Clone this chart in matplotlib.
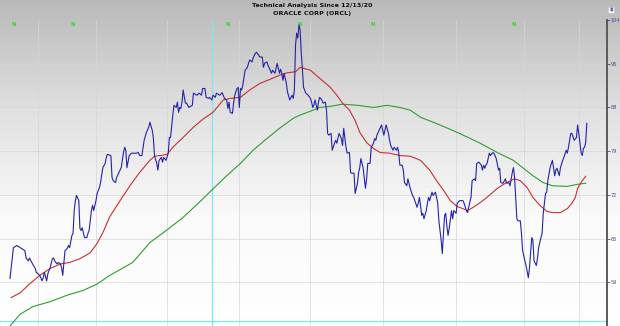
import numpy as np
import matplotlib.pyplot as plt
from matplotlib.colors import LinearSegmentedColormap
from matplotlib.ticker import NullLocator

title_lines = ["Technical Analysis Since 12/13/20", "ORACLE CORP (ORCL)"]

# closing price, trading-day index since 12/13/20
price_day = [0, 3, 6, 10, 13, 14, 16, 17, 19, 22, 23, 26, 28, 29, 30, 32, 33, 35, 37, 38,
             39, 41, 42, 44, 45, 46, 48, 50, 51, 52, 54, 55, 56, 57, 58, 60, 61, 62, 63, 65,
             67, 68, 69, 71, 72, 73, 75, 76, 78, 79, 80, 81, 83, 84, 85, 88, 89, 90, 92, 93,
             95, 97, 99, 100, 101, 102, 104, 106, 110, 112, 113, 115, 117, 119, 121, 122, 124, 125, 126, 128,
             129, 130, 132, 133, 134, 136, 138, 139, 140, 142, 143, 145, 146, 147, 148, 149, 150, 151, 153, 154,
             156, 159, 160, 163, 165, 167, 168, 170, 171, 173, 174, 176, 177, 179, 180, 183, 185, 186, 187, 189,
             190, 191, 192, 194, 195, 196, 198, 199, 200, 201, 202, 203, 205, 207, 208, 209, 211, 212, 214, 215,
             218, 220, 221, 222, 224, 225, 227, 228, 229, 231, 233, 235, 236, 237, 238, 239, 241, 242, 244, 246,
             247, 248, 249, 250, 251, 252, 253, 254, 255, 256, 258, 260, 262, 263, 264, 265, 266, 268, 269, 270,
             272, 273, 275, 276, 277, 278, 280, 281, 283, 284, 285, 287, 289, 290, 291, 293, 294, 296, 297, 298,
             300, 301, 303, 304, 305, 306, 308, 309, 310, 311, 312, 314, 315, 317, 318, 319, 320, 322, 324, 325,
             326, 328, 330, 331, 332, 334, 335, 337, 338, 339, 340, 342, 343, 344, 346, 347, 349, 351, 352, 353,
             355, 356, 357, 358, 359, 360, 361, 363, 364, 365, 366, 368, 369, 371, 372, 373, 374, 376, 377, 378,
             379, 380, 381, 382, 383, 385, 386, 387, 389, 390, 392, 395, 396, 398, 399, 400, 402, 403, 405, 406,
             407, 409, 411, 412, 413, 414, 415, 416, 418, 419, 421, 422, 424, 426, 427, 428, 430, 432, 433, 435,
             436, 438, 439, 440, 442, 443, 445, 446, 447, 449, 450, 452, 453, 454, 455, 456, 457, 459, 460, 461,
             463, 464, 465, 467, 468, 469, 471, 473, 474, 475, 476, 477, 479, 480, 482, 483, 485, 486, 487, 489,
             490, 492, 494, 495, 496, 498, 499, 500, 501, 502, 503]
price = [59.5, 63.6, 63.9, 63.5, 63.2, 62.2, 61.8, 62.2, 61.6, 60.8, 60.3, 59.9, 59.2, 59.6, 60.3, 59.2, 60.1, 60.9, 62.1, 62.2,
         61.8, 61.4, 61.6, 61.4, 60.9, 59.9, 63.2, 63.5, 63.9, 63.6, 65.3, 65.6, 68.9, 70.4, 71.2, 70.4, 66.3, 66.0, 66.4, 65.0,
         65.0, 65.6, 66.0, 68.9, 69.7, 68.9, 70.4, 71.5, 72.4, 73.2, 74.5, 75.6, 76.3, 77.3, 77.8, 77.6, 74.0, 73.5, 73.2, 74.0,
         74.8, 75.6, 78.1, 79.0, 78.5, 75.6, 77.6, 78.0, 78.0, 78.1, 77.6, 77.6, 80.2, 81.6, 82.5, 83.4, 82.0, 80.7, 77.6, 76.3,
         75.2, 76.8, 77.3, 76.5, 77.3, 76.8, 78.0, 80.7, 80.7, 84.7, 86.5, 86.1, 87.1, 85.2, 86.1, 85.9, 87.1, 89.4, 86.9, 86.9,
         86.1, 86.5, 88.8, 88.4, 88.8, 88.4, 89.7, 89.7, 88.0, 87.8, 88.0, 87.5, 88.4, 88.0, 88.8, 88.4, 88.9, 88.4, 87.8, 87.5,
         85.9, 87.1, 85.2, 85.0, 86.9, 88.4, 89.7, 89.9, 86.1, 89.7, 89.4, 90.3, 93.3, 93.9, 94.7, 95.4, 95.0, 95.8, 96.8, 97.0,
         96.0, 96.0, 93.9, 94.7, 95.0, 94.3, 93.3, 92.7, 93.3, 92.7, 94.7, 92.7, 93.5, 92.7, 91.3, 92.7, 90.7, 89.0, 87.5, 88.4,
         87.8, 89.4, 98.5, 101.1, 100.0, 102.9, 101.8, 96.8, 93.5, 89.9, 88.8, 88.4, 87.8, 87.1, 86.1, 86.5, 87.5, 85.6, 87.1, 88.0,
         87.5, 86.9, 87.1, 85.6, 81.4, 81.1, 81.4, 78.5, 79.7, 80.2, 79.7, 81.4, 80.5, 79.3, 82.3, 79.0, 78.0, 78.1, 74.8, 74.7,
         74.7, 71.5, 73.1, 74.8, 75.6, 77.1, 75.5, 73.8, 72.3, 73.8, 76.3, 76.3, 79.0, 79.7, 80.5, 80.2, 81.1, 82.0, 82.9, 82.0,
         81.1, 82.9, 81.4, 80.2, 79.3, 78.5, 79.0, 78.5, 79.0, 78.0, 76.0, 76.0, 75.2, 73.2, 72.7, 73.8, 72.3, 71.2, 70.9, 70.4,
         69.4, 70.0, 70.9, 69.7, 68.2, 68.5, 67.7, 68.9, 70.0, 70.9, 70.4, 71.7, 71.2, 71.7, 70.9, 70.0, 67.4, 64.6, 62.8, 65.6,
         68.2, 68.5, 66.6, 65.3, 66.3, 68.9, 67.7, 68.9, 68.5, 70.0, 70.4, 70.4, 70.0, 68.9, 68.6, 69.4, 70.9, 73.5, 73.8, 73.5,
         76.3, 76.5, 76.0, 75.2, 76.0, 75.5, 76.0, 76.3, 78.0, 77.6, 78.1, 78.0, 77.1, 75.2, 75.5, 73.2, 73.1, 73.8, 73.1, 73.2,
         72.7, 74.8, 75.6, 74.0, 67.7, 67.4, 67.4, 65.6, 63.2, 61.8, 61.2, 59.6, 60.9, 62.9, 65.0, 64.6, 61.8, 61.2, 62.2, 63.6,
         65.0, 65.6, 68.5, 71.5, 71.7, 73.5, 75.6, 76.8, 75.6, 74.3, 75.2, 75.5, 74.3, 75.6, 76.8, 77.3, 78.5, 78.0, 79.0, 81.4,
         81.4, 80.2, 80.7, 82.9, 81.4, 78.1, 77.6, 78.8, 79.0, 79.8, 83.2]

# 50 day moving average
ma50_day = [1, 9, 17, 26, 35, 44, 52, 61, 70, 76, 81, 87, 96, 105, 113, 122, 126, 131, 137, 142,
            151, 160, 168, 177, 186, 192, 201, 209, 218, 227, 235, 242, 249, 253, 262, 270, 279, 285, 290, 296,
            301, 305, 311, 317, 323, 331, 340, 349, 358, 366, 372, 378, 384, 390, 395, 399, 404, 410, 416, 425,
            432, 440, 445, 451, 456, 462, 468, 473, 480, 486, 490, 493, 495, 499, 502]
ma50 = [57.1, 57.7, 58.8, 59.9, 60.8, 61.4, 61.6, 62.1, 62.9, 64.2, 65.7, 68.0, 70.4, 72.8, 74.8, 76.8, 77.5, 77.6, 77.8, 79.0,
        80.7, 82.5, 83.9, 85.2, 87.5, 87.8, 88.0, 89.4, 90.7, 91.5, 92.3, 92.8, 93.0, 93.9, 93.3, 91.7, 90.0, 88.4, 86.9, 85.6,
        83.7, 81.6, 79.8, 78.8, 78.1, 78.0, 77.6, 77.5, 76.8, 75.2, 73.5, 72.0, 70.4, 69.5, 69.2, 68.9, 69.4, 70.1, 70.9, 72.3,
        73.1, 73.8, 73.5, 72.4, 70.9, 69.7, 68.8, 68.6, 68.6, 69.2, 70.0, 70.9, 72.3, 73.5, 74.2]

# 200 day moving average
ma200_day = [0, 9, 20, 35, 50, 64, 76, 87, 107, 122, 137, 151, 166, 177, 189, 201, 212, 224, 235, 247,
             253, 262, 270, 279, 290, 303, 317, 329, 340, 349, 358, 375, 392, 410, 425, 439, 447, 456, 465, 473,
             486, 494, 502]
ma200 = [53.7, 55.1, 56.0, 56.6, 57.4, 58.0, 58.8, 59.9, 61.6, 64.3, 66.1, 67.9, 70.3, 72.2, 74.3, 76.3, 78.5, 80.5, 82.3, 84.1,
         84.7, 85.4, 86.1, 86.3, 86.7, 86.5, 86.1, 86.5, 86.1, 85.6, 84.3, 82.9, 81.4, 79.7, 78.1, 76.8, 75.6, 74.3, 73.2, 72.7,
         72.6, 72.9, 73.1]

tick_vals = [104, 94.6, 86.1, 78.3, 71.3, 64.8, 59.0]
tick_labels = ["104", "95", "88", "79", "72", "65", "59"]
quarter_days = [24, 75, 137, 200, 262, 325, 389, 448, 496]
cursor_day = 176
cursor_price = 54.3
n_days = [3, 55, 190, 253, 316, 439]

W, H = 620, 326
fig = plt.figure(figsize=(W / 100, H / 100), dpi=100)

# grey-to-white backdrop
bg = fig.add_axes([0, 0, 1, 1])
cmap = LinearSegmentedColormap.from_list("bg", ["#b9b9b9", "#e0e0e0", "#fafafa", "#ffffff"])
bg.imshow(np.linspace(0, 1, 256).reshape(-1, 1), aspect="auto", cmap=cmap, extent=[0, 1, 0, 1])
bg.axis("off")

ax = fig.add_axes([0, 0, 607 / W, 306 / H])
ax.set_facecolor("none")
ax.set_yscale("log")
ax.set_ylim(53.7, 104)
ax.set_xlim(-8.7, 520.6)

for v in tick_vals[1:]:
    ax.axhline(v, color="#d6d6d6", lw=0.5, zorder=1)
for d in quarter_days:
    ax.axvline(d, color="#d6d6d6", lw=0.5, zorder=1)
ax.axvline(cursor_day, color="#7fe8ee", lw=0.9, zorder=1)
ax.axhline(cursor_price, color="#7fe8ee", lw=0.9, zorder=1)

ax.plot(ma200_day, ma200, color="#2e9e2e", lw=0.8, zorder=3)
ax.plot(ma50_day, ma50, color="#c83030", lw=0.8, zorder=3)
ax.plot(price_day, price, color="#2323a8", lw=0.8, zorder=4)

for d in n_days:
    ax.text(d, 0.995, "N", transform=ax.get_xaxis_transform(), color="#22dd22",
            fontsize=3.6, fontweight="bold", ha="center", va="top")

ax.yaxis.tick_right()
ax.set_yticks(tick_vals)
ax.set_yticklabels(tick_labels)
ax.yaxis.set_minor_locator(NullLocator())
ax.tick_params(axis="y", length=2, width=0.6, pad=0.8, labelsize=3.6, colors="#555555", labelcolor="#4a4a9a")
ax.set_xticks([])
for s in ["top", "left", "bottom"]:
    ax.spines[s].set_visible(False)
ax.spines["right"].set_color("#5a5a5a")
ax.spines["right"].set_linewidth(1.4)

fig.text(312 / W, 1 - 5 / H, title_lines[0], ha="center", va="center", fontsize=4.6,
         fontweight="bold", color="#111111")
fig.text(312 / W, 1 - 13 / H, title_lines[1], ha="center", va="center", fontsize=4.6,
         fontweight="bold", color="#111111")
fig.text(611 / W, 1 - 10 / H, "$", ha="center", va="center", fontsize=4, fontweight="bold",
         color="#3333aa", bbox=dict(boxstyle="square,pad=0.15", fc="white", ec="#c0c0c0", lw=0.4))

fig.savefig("out.png", dpi=100)
